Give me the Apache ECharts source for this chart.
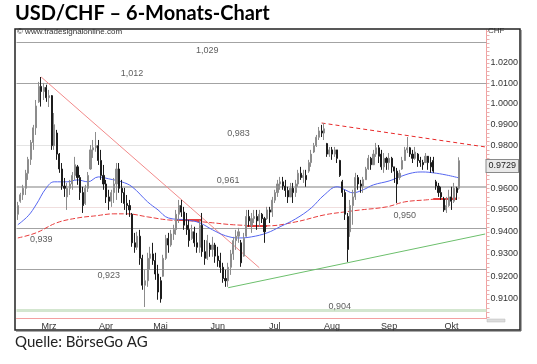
<!DOCTYPE html>
<html><head><meta charset="utf-8">
<script src="https://cdn.jsdelivr.net/npm/echarts@6/dist/echarts.min.js"></script>
<style>html,body{margin:0;padding:0;background:#fff}#c{width:537px;height:364px}</style>
</head><body><div id="c"></div>
<script>
// ---- data (USD/CHF daily, from 2015-02-27) ----
const firstDate = '2015-02-27';
const totalSlots = 181;
const openP = [
.9480,.9540,.9570,.9600,.9670,.9735,.9815,.9885,1.0010,1.0085,
1.0060,1.0080,1.0030,1.0040,.9800,.9860,.9760,.9690,.9610,.9560,
.9600,.9620,.9660,.9700,.9650,.9580,.9530,.9600,.9690,.9780,
.9790,.9800,.9730,.9660,.9620,.9560,.9540,.9580,.9620,.9690,
.9600,.9580,.9530,.9520,.9480,.9350,.9330,.9380,.9280,.9160,
.9180,.9280,.9300,.9270,.9210,.9180,.9200,.9280,.9370,.9340,
.9390,.9410,.9480,.9520,.9490,.9430,.9410,.9370,.9400,.9350,
.9330,.9430,.9310,.9280,.9340,.9320,.9340,.9290,.9270,.9240,
.9190,.9180,.9240,.9300,.9360,.9380,.9350,.9290,.9380,.9470,
.9430,.9460,.9470,.9450,.9480,.9460,.9460,.9500,.9490,.9545,
.9580,.9620,.9630,.9610,.9590,.9560,.9600,.9580,.9620,.9670,
.9650,.9660,.9680,.9720,.9770,.9800,.9840,.9870,.9860,.9810,
.9760,.9780,.9760,.9780,.9730,.9630,.9580,.9470,.9400,.9520,
.9560,.9650,.9620,.9610,.9640,.9690,.9740,.9710,.9760,.9790,
.9760,.9700,.9740,.9720,.9740,.9700,.9680,.9650,.9690,.9730,
.9780,.9790,.9760,.9740,.9760,.9730,.9720,.9720,.9750,.9720,
.9730,.9630,.9610,.9580,.9550,.9500,.9520,.9560,.9540,.9600,
.9600];
const highP = [
.9537,.9579,.9616,.9686,.9747,.9827,.9899,1.0019,1.0107,1.0131,
1.0102,1.0093,1.0068,1.0043,.9956,.9875,.9765,.9718,.9648,.9625,
.9639,.9676,.9747,.9709,.9662,.9607,.9616,.9676,.9803,.9827,
.9865,.9827,.9780,.9709,.9639,.9593,.9593,.9648,.9718,.9718,
.9639,.9602,.9569,.9546,.9486,.9395,.9400,.9409,.9296,.9229,
.9305,.9332,.9350,.9305,.9251,.9197,.9296,.9386,.9395,.9409,
.9432,.9500,.9546,.9546,.9514,.9486,.9454,.9432,.9423,.9395,
.9454,.9486,.9363,.9386,.9350,.9377,.9350,.9332,.9305,.9260,
.9229,.9260,.9318,.9377,.9409,.9418,.9363,.9395,.9500,.9500,
.9486,.9500,.9500,.9500,.9486,.9468,.9514,.9514,.9560,.9593,
.9639,.9653,.9653,.9639,.9607,.9625,.9625,.9639,.9686,.9700,
.9686,.9686,.9733,.9780,.9813,.9851,.9889,.9899,.9908,.9813,
.9794,.9794,.9794,.9780,.9733,.9639,.9593,.9486,.9546,.9593,
.9672,.9662,.9639,.9653,.9700,.9756,.9747,.9780,.9813,.9803,
.9780,.9765,.9747,.9765,.9747,.9700,.9695,.9686,.9747,.9794,
.9841,.9794,.9780,.9794,.9765,.9747,.9733,.9765,.9747,.9747,
.9747,.9639,.9625,.9607,.9560,.9560,.9593,.9607,.9625,.9607,
.9745];
const lowP = [
.9454,.9533,.9546,.9569,.9639,.9709,.9780,.9851,1.0005,.9987,
1.0019,1.0010,.9985,.9780,.9780,.9733,.9672,.9593,.9560,.9500,
.9569,.9593,.9639,.9616,.9546,.9486,.9523,.9583,.9686,.9742,
.9771,.9709,.9639,.9593,.9532,.9500,.9514,.9532,.9546,.9579,
.9532,.9500,.9477,.9468,.9332,.9305,.9318,.9251,.9140,.9064,
.9153,.9229,.9251,.9184,.9096,.9083,.9197,.9273,.9305,.9332,
.9363,.9386,.9440,.9468,.9409,.9386,.9332,.9363,.9332,.9305,
.9305,.9287,.9251,.9273,.9287,.9287,.9260,.9242,.9215,.9171,
.9153,.9153,.9206,.9273,.9318,.9350,.9242,.9287,.9377,.9423,
.9395,.9440,.9409,.9423,.9440,.9350,.9454,.9440,.9468,.9532,
.9560,.9593,.9593,.9560,.9532,.9560,.9532,.9560,.9607,.9639,
.9625,.9607,.9672,.9700,.9765,.9794,.9827,.9841,.9827,.9747,
.9747,.9733,.9747,.9718,.9653,.9560,.9454,.9264,.9377,.9432,
.9546,.9593,.9579,.9579,.9639,.9686,.9686,.9718,.9747,.9718,
.9686,.9672,.9686,.9686,.9672,.9625,.9532,.9639,.9686,.9733,
.9765,.9747,.9718,.9733,.9700,.9700,.9686,.9718,.9686,.9672,
.9672,.9593,.9560,.9546,.9491,.9486,.9514,.9500,.9532,.9546,
.9593];
const closeP = [
.9520,.9570,.9600,.9670,.9735,.9815,.9885,.9990,1.0085,1.0060,
1.0080,1.0030,1.0040,.9800,.9900,.9760,.9690,.9610,.9600,.9600,
.9620,.9660,.9710,.9650,.9580,.9520,.9600,.9660,.9780,.9790,
.9800,.9730,.9660,.9620,.9560,.9540,.9580,.9620,.9690,.9600,
.9580,.9530,.9520,.9500,.9350,.9330,.9380,.9280,.9160,.9180,
.9280,.9300,.9270,.9210,.9130,.9100,.9280,.9370,.9340,.9390,
.9410,.9480,.9520,.9490,.9430,.9410,.9360,.9400,.9350,.9330,
.9430,.9310,.9280,.9360,.9320,.9340,.9290,.9270,.9240,.9190,
.9180,.9240,.9300,.9360,.9380,.9400,.9260,.9370,.9470,.9450,
.9460,.9470,.9450,.9480,.9460,.9400,.9500,.9490,.9545,.9580,
.9620,.9630,.9610,.9590,.9560,.9600,.9580,.9620,.9670,.9650,
.9660,.9640,.9720,.9760,.9800,.9840,.9870,.9860,.9880,.9760,
.9780,.9760,.9780,.9740,.9660,.9580,.9480,.9320,.9520,.9560,
.9650,.9620,.9610,.9640,.9690,.9740,.9710,.9760,.9790,.9750,
.9700,.9740,.9720,.9740,.9700,.9680,.9620,.9670,.9730,.9780,
.9790,.9760,.9740,.9770,.9730,.9720,.9710,.9750,.9720,.9700,
.9680,.9610,.9580,.9560,.9500,.9520,.9560,.9540,.9600,.9580,
.9729];
// moving averages (read at selected bars)
const maFastIdx = [0,4,7,11,14,19,23,27,31,35,40,44,50,54,58,65,70,75,80,85,90,96,101,107,113,118,123,126,129,133,137,143,147,152,156,160,165,170];
const maFastVal = [.9432,.9473,.9523,.9602,.9630,.9630,.9639,.9630,.9653,.9644,.9630,.9607,.9537,.9500,.9463,.9454,.9441,.9409,.9382,.9372,.9377,.9395,.9423,.9459,.9509,.9569,.9607,.9593,.9579,.9593,.9616,.9634,.9653,.9672,.9676,.9672,.9662,.9648];
const maSlowIdx = [0,7,15,23,30,37,42,50,58,66,75,83,96,107,118,126,132,142,149,157,162,170];
const maSlowVal = [.9372,.9395,.9441,.9463,.9473,.9482,.9482,.9468,.9454,.9450,.9441,.9432,.9427,.9445,.9477,.9491,.9500,.9514,.9537,.9546,.9551,.9555];
// horizontal levels
const levels = [1.029, 1.012, 0.983, 0.961, 0.950, 0.939, 0.923, 0.904];
const levelLabels = ['1,029','1,012','0,983','0,961','0,950','0,939','0,923','0,904'];
const levelLabelIdx = [72.5, 44, 84.5, 81, 148.5, 9, 35, 123.5];
// trend lines [index, price]
const trendDown = [[8.9, 1.0131], [92.5, 0.9238]];
const trendResist = [[117.4, 0.9908], [180.3, 0.9794]];
const trendSupport = [[81.3, 0.9149], [180.3, 0.9390]];
const supportMarks = [[[60.6, 0.9454], [70.5, 0.9454]], [[88.3, 0.9427], [96.3, 0.9427]], [[160.3, 0.9551], [168.9, 0.9551]]];
// axis ticks
const yTickLabels = [0.91,0.92,0.93,0.94,0.95,0.96,0.97,0.98,0.99,1.00,1.01,1.02];
const yMin = 0.9016, yMax = 1.0364;
const monthNames = ['Jan','Feb','Mrz','Apr','Mai','Jun','Jul','Aug','Sep','Okt','Nov','Dez'];

// ---- build ----
const L = Math.log;
const cats = [];
{ const d = new Date(firstDate + 'T00:00:00Z');
  while (cats.length < totalSlots) { const w = d.getUTCDay(); if (w !== 0 && w !== 6) cats.push(d.toISOString().slice(0,10)); d.setUTCDate(d.getUTCDate()+1); } }
const monthOf = i => +cats[i].slice(5,7);
const starts = [];
for (let i = 1; i < cats.length; i++) if (monthOf(i) !== monthOf(i-1) && monthOf(i) <= 10) starts.push(i);
const tickSet = new Set(starts);
const labelAt = {};
starts.forEach((s,k) => { const e = k+1 < starts.length ? starts[k+1] : cats.length; labelAt[Math.round((s+e)/2 - 0.5)] = monthNames[monthOf(s)-1]; });

const candles = openP.map((o,i) => [L(o), L(closeP[i]), L(lowP[i]), L(highP[i])]);
const fast = maFastIdx.map((x,k) => [x, L(maFastVal[k])]);
const slow = maSlowIdx.map((x,k) => [x, L(maSlowVal[k])]);
const yMinor = []; for (let v = 902; v <= 1036; v += 2) yMinor.push(L(v/1000));

const levelStyle = [
 {color:'#a3a3a3', width:1}, {color:'#a3a3a3', width:1}, {color:'#e4e4e4', width:1},
 {color:'#aaaaaa', width:1.6}, {color:'#f0dede', width:1}, {color:'#a3a3a3', width:1},
 {color:'#a3a3a3', width:1}, {color:'#d3e6cf', width:3}];
const levelSide = ['bottom','top','top','top','bottom','bottom','bottom','top'];

const seg = (pts, style) => [{coord:[pts[0][0], L(pts[0][1])], lineStyle: style}, {coord:[pts[1][0], L(pts[1][1])]}];
const markData = [];
levels.forEach((v,k) => markData.push({yAxis: L(v), lineStyle: Object.assign({type:'solid'}, levelStyle[k]), label:{show:false}}));
markData.push(seg(trendDown, {color:'#f28a8a', width:1, type:'solid'}));
markData.push(seg(trendResist, {color:'#e82a2a', width:1, type:[4,3]}));
markData.push(seg(trendSupport, {color:'#6cbf6c', width:1, type:'solid'}));
supportMarks.forEach(p => markData.push(seg(p, {color:'#e01010', width:1.6, type:'solid'})));
const lastClose = closeP[closeP.length-1];
markData.push({yAxis: L(lastClose), lineStyle:{color:'rgba(0,0,0,0)', width:0}, label:{show:true, position:'end', distance:0,
  formatter: lastClose.toFixed(4), fontSize:9, fontFamily:'Liberation Sans', color:'#222',
  backgroundColor:'#e9e9e9', borderColor:'#8a8a8a', borderWidth:1, padding:[2,2,1,2]}});

const chart = echarts.init(document.getElementById('c'), null, {renderer:'canvas'});
chart.setOption({
  animation:false,
  textStyle:{fontFamily:'Liberation Sans'},
  grid:{left:16.5, top:30, width:470, height:288},
  xAxis:{type:'category', data:cats, boundaryGap:true,
    axisLine:{onZero:false, lineStyle:{color:'#f3a0a0', width:1}},
    axisTick:{interval:(i)=>tickSet.has(i), length:3, lineStyle:{color:'#d9a0a0'}},
    axisLabel:{interval:(i)=>(i in labelAt), formatter:(v,i)=>labelAt[i]||'', fontSize:9, color:'#333', margin:4},
    splitLine:{show:false}},
  yAxis:{type:'value', position:'right', min:L(yMin), max:L(yMax),
    axisLine:{show:true, onZero:false, lineStyle:{color:'#f3a0a0'}},
    axisTick:{show:true, customValues:yMinor, length:3, lineStyle:{color:'#e8b0b0'}},
    axisLabel:{customValues:yTickLabels.map(L), formatter:(v)=>Math.exp(v).toFixed(4), fontSize:9, color:'#333', margin:4},
    splitLine:{show:false}},
  series:[
    {type:'candlestick', data:candles, barWidth:1.6, z:3,
      itemStyle:{color:'#8c8c8c', color0:'#1c1c1c', borderColor:'#8c8c8c', borderColor0:'#1c1c1c', borderWidth:1},
      markLine:{silent:true, symbol:['none','none'], data:markData, z:1}},
    {type:'line', data:slow, smooth:0.4, showSymbol:false, symbol:'none', z:2,
      lineStyle:{color:'#e83c3c', width:1, type:[5,2]}},
    {type:'line', data:fast, smooth:0.4, showSymbol:false, symbol:'none', z:2,
      lineStyle:{color:'#5566f0', width:1}},
    {type:'scatter', symbolSize:1, itemStyle:{color:'rgba(0,0,0,0)'}, z:4,
      data: levels.map((v,k)=>({value:[levelLabelIdx[k], L(v)], label:{position:levelSide[k]}})),
      label:{show:true, formatter:(p)=>levelLabels[p.dataIndex], fontSize:9, color:'#333', distance:1}}
  ],
  graphic:[
    {type:'text', left:15, top:4, style:{text:'USD/CHF – 6-Monats-Chart', font:'bold 20px Lato', fill:'#000'}},
    {type:'text', left:15, top:335, style:{text:'Quelle: BörseGo AG', font:'15px Lato', fill:'#222'}},
    {type:'rect', shape:{x:15, y:29, width:505, height:301}, style:{fill:'none', stroke:'#222', lineWidth:1.5}, z:10},
    {type:'polyline', shape:{points:[[521,30],[521,331],[16,331]]}, style:{fill:'none', stroke:'#555', lineWidth:1}, z:10},
    {type:'text', left:17, top:28, style:{text:'© www.tradesignalonline.com', font:'8px Liberation Sans', fill:'#333'}},
    {type:'text', left:488, top:27, style:{text:'CHF', font:'8px Liberation Sans', fill:'#444'}},
    {type:'rect', shape:{x:487, y:319, width:18, height:3}, style:{fill:'#dcdcdc', stroke:'#bbb', lineWidth:0.5}}
  ]
});
</script></body></html>
